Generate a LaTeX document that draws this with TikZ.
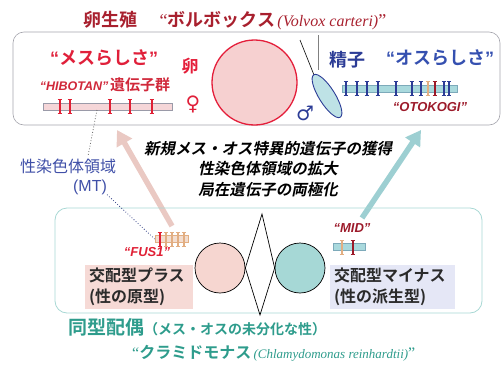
\documentclass[tikz,border=0pt]{standalone}
\usepackage{fontspec}
\setmainfont{Liberation Serif}
\newfontfamily\jp{Noto Sans CJK JP}[BoldFont={Noto Sans CJK JP Bold}]
\newfontfamily\jpsl{Noto Sans CJK JP Bold}[FakeSlant=0.2]
\newfontfamily\arial{Liberation Sans}
\newfontfamily\symb{DejaVu Sans}
\usetikzlibrary{arrows.meta,calc}

\newcommand\fsz[1]{\fontsize{#1}{#1}\selectfont}

\definecolor{titlered}{HTML}{A8202E}
\definecolor{femred}{HTML}{E0203A}
\definecolor{hibred}{HTML}{D0283A}
\definecolor{eggred}{HTML}{E41E3A}
\definecolor{eggpink}{HTML}{F6D0D0}
\definecolor{barpink}{HTML}{F5D6D8}
\definecolor{bargray}{HTML}{9A9AA8}
\definecolor{tickred}{HTML}{E02035}
\definecolor{darkred}{HTML}{9C1A2A}
\definecolor{tan}{HTML}{E2AE82}
\definecolor{malblue}{HTML}{2C3C96}
\definecolor{malelight}{HTML}{3550B0}
\definecolor{spermfill}{HTML}{BEE2E6}
\definecolor{barteal}{HTML}{A9D9DD}
\definecolor{barblue}{HTML}{7DAABA}
\definecolor{boxgray}{HTML}{A4A4AC}
\definecolor{boxteal}{HTML}{A8D8D4}
\definecolor{arrowpink}{HTML}{EAC9C3}
\definecolor{arrowteal}{HTML}{9DCFD2}
\definecolor{mtblue}{HTML}{4050A8}
\definecolor{fuspink}{HTML}{F3DDCF}
\definecolor{plusfill}{HTML}{F6DAD6}
\definecolor{minusfill}{HTML}{E5E7F6}
\definecolor{pluspink}{HTML}{F6D6D0}
\definecolor{minusteal}{HTML}{A6D8D6}
\definecolor{isoteal}{HTML}{2E9C8C}
\definecolor{txtdark}{HTML}{2A2A2A}

\tikzset{
	lbl/.style={inner sep=0pt, font=\jp},
	genename/.style={inner sep=0pt, font=\arial\bfseries\itshape\fsz{13}},
	genebar/.style={draw, line width=0.6pt, inner sep=0pt, minimum height=7pt},
	fatarrow/.style={line width=5.5pt, -{Triangle[length=15pt,width=17pt]}},
	matebox/.style={align=left, inner xsep=4pt, inner ysep=2pt, minimum height=44pt,
		text=txtdark, font=\jp\bfseries\fontsize{16}{21}\selectfont},
	cell/.style={circle, draw, line width=0.7pt, minimum size=50pt, inner sep=0pt},
	mtdots/.style={dotted, line width=0.8pt},
	gtick/.pic={
		\draw[line width=1.4pt] (0,-7) -- (0,7);
		\draw[line width=0.9pt] (-2.4,-7) -- (2.4,-7) (-2.4,7) -- (2.4,7);
	}
}

\begin{document}
\begin{tikzpicture}[x=1pt,y=-1pt]

	\useasboundingbox (0,0) rectangle (503,364);

	% ---- evolution arrows (behind the rest)

	\coordinate (plustail) at (172,226);
	\coordinate (plushead) at (117,130);
	\coordinate (minustail) at (362,218);
	\coordinate (minushead) at (421,130);
	\draw[fatarrow, arrowpink] (plustail) -- (plushead);
	\draw[fatarrow, arrowteal] (minustail) -- (minushead);

	% ---- oogamy (Volvox)

	\node[lbl, text=titlered] (title) at (235,21)
		{{\bfseries\fsz{18}卵生殖}\hspace{22pt}{\rmfamily\fsz{18}“}{\bfseries\fsz{18}ボルボックス} {\rmfamily\itshape\fsz{16}(Volvox carteri)}{\rmfamily\fsz{18}”}};

	\node[draw=boxgray, line width=0.6pt, rounded corners=11pt,
		minimum width=487pt, minimum height=93pt] (oogamy) at (256.5,78.5) {};

	% female side
	\node[lbl, text=femred, font=\jp\bfseries\fsz{18}] (femaleness) at (104,58)
		{{\arial“}メスらしさ{\arial”}};
	\node[lbl, text=hibred] (hiblbl) at (105,85)
		{{\arial\bfseries\itshape\fsz{12.5}“HIBOTAN”}\,{\bfseries\fsz{15}遺伝子群}};
	\node[genebar, fill=barpink, draw=bargray, minimum width=129pt] (hibotan) at (107.5,106.5) {};
	\foreach \x in {60,70,110,130,152} {
		\pic[tickred] at (\x,106.5) {gtick};
	}

	\node[lbl, text=eggred, font=\jp\bfseries\fsz{17}] (egglbl) at (190,66) {卵};
	\node[lbl, text=femred, font=\symb\bfseries\fsz{20}] (femsym) at (193,104) {♀};
	\node[cell, draw=eggred, line width=1.3pt, fill=eggpink, minimum size=85pt] (egg) at (254.5,82.5) {};

	% male side
	\coordinate (spermc) at (327,96);
	\coordinate (spermtop) at (314,75);
	\coordinate (flagA) at (300,40);
	\coordinate (flagB) at (318,35);
	\coordinate (flagBend) at (318,70);
	\draw[line width=0.6pt] (flagA) -- (spermtop);
	\draw[line width=0.6pt, gray] (flagB) -- (flagBend);
	\draw[malblue, line width=0.9pt, fill=spermfill, rotate around={-58:(spermc)}] (spermc) ellipse (25 and 8);
	\node[lbl, text=malblue, font=\symb\bfseries\fsz{20}] (malesym) at (305,113) {♂};

	\node[lbl, text=malblue, font=\jp\bfseries\fsz{18}] (spermlbl) at (347,60) {精子};
	\node[lbl, text=malelight, font=\jp\bfseries\fsz{18}] (maleness) at (440,58)
		{{\arial“}オスらしさ{\arial”}};
	\node[genebar, fill=barteal, draw=barblue, minimum width=115pt] (otokogi) at (399.5,88.5) {};
	\foreach \x in {346,357,367,378,396,412,421,444,449} {
		\pic[malblue] at (\x,88.5) {gtick};
	}
	\pic[tan] at (428,88.5) {gtick};
	\pic[darkred] at (435,88.5) {gtick};
	\node[genename, text=darkred] (otolbl) at (430,107) {“OTOKOGI”};

	% ---- what changed on the way

	\node[lbl, align=center, font=\jpsl\fontsize{15.5}{20.5}\selectfont] (evolution) at (268,169)
		{新規メス・オス特異的遺伝子の獲得\\性染色体領域の拡大\\局在遺伝子の両極化};

	\node[lbl, text=mtblue, font=\jp\fsz{16}] (mtregion) at (68,166) {性染色体領域};
	\node[lbl, text=mtblue, font=\arial\fsz{16}] (mtname) at (90,187) {(MT)};

	% ---- isogamy (Chlamydomonas)

	\node[draw=boxteal, line width=0.8pt, rounded corners=12pt,
		minimum width=427pt, minimum height=105pt] (isogamy) at (268.5,260.5) {};

	% plus
	\node[genebar, fill=fuspink, draw=tan, minimum width=33pt] (fus) at (171.5,239) {};
	\foreach \x in {166,172,178,184} {
		\pic[tan] at (\x,239) {gtick};
	}
	\pic[tickred] at (160,239) {gtick};
	\node[genename, text=tickred] (fuslbl) at (147,252) {“FUS1”};
	\node[matebox, fill=plusfill, text width=100pt] (plus) at (139,286.5) {交配型プラス\\(性の原型)};

	% minus
	\node[genebar, fill=barteal, draw=barblue, minimum width=32pt] (mid) at (349,247) {};
	\pic[tan] at (342,247) {gtick};
	\pic[darkred] at (353,247) {gtick};
	\node[genename, text=darkred] (midlbl) at (352,228) {“MID”};
	\node[matebox, fill=minusfill, text width=117pt] (minus) at (392.5,286.5) {交配型マイナス\\(性の派生型)};

	% mating pair
	\node[cell, fill=pluspink] (pluscell) at (220,268) {};
	\node[cell, fill=minusteal] (minuscell) at (300,268) {};
	\coordinate (fusetop) at (262,214);
	\coordinate (fusebot) at (260,315);
	\draw[line width=0.7pt] (fusetop) -- (pluscell.east) -- (fusebot) -- (minuscell.west) -- cycle;

	% sex chromosome region marks
	\coordinate (mtfrom) at (97,110);
	\coordinate (mtto) at (88,156);
	\draw[mtdots, gray!80!black] (mtfrom) -- (mtto);
	\draw[mtdots, mtblue!80!black] (mtname.south east) -- (fus.west);

	\node[lbl, anchor=west, text=isoteal, font=\jp\bfseries] (isolbl) at (68,327)
		{{\fsz{19}同型配偶}{\fsz{14}（メス・オスの未分化な性）}};
	\node[lbl, anchor=west, text=isoteal] (chlamy) at (132,353)
		{{\rmfamily\fsz{16}“}{\bfseries\fsz{16}クラミドモナス} {\rmfamily\itshape\fsz{13}(Chlamydomonas reinhardtii)}{\rmfamily\fsz{16}”}};

\end{tikzpicture}
\end{document}
